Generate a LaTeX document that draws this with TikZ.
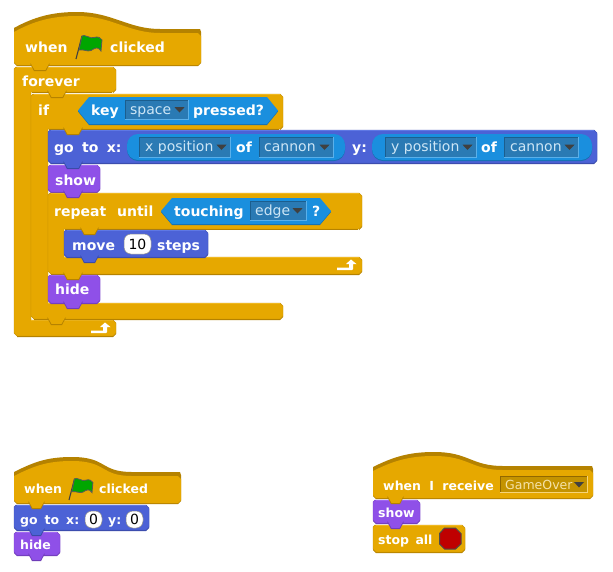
\documentclass[tikz,border=0pt]{standalone}
\usepackage{fontspec}
\setmainfont{DejaVu Sans}
\definecolor{ymain}{HTML}{E6A800}
\definecolor{ydark}{HTML}{B58200}
\definecolor{ylite}{HTML}{F0B820}
\definecolor{bmain}{HTML}{4C62D6}
\definecolor{bdark}{HTML}{3A4BA8}
\definecolor{blite}{HTML}{5F78E4}
\definecolor{pmain}{HTML}{8F50E8}
\definecolor{pdark}{HTML}{6F3DB8}
\definecolor{plite}{HTML}{A066F0}
\definecolor{smain}{HTML}{1A8FDE}
\definecolor{sdark}{HTML}{1570B0}
\definecolor{ddfill}{HTML}{2A7AB4}
\definecolor{ddtl}{HTML}{1B5E8E}
\definecolor{ddbr}{HTML}{5AB0EA}
\definecolor{ddtxt}{HTML}{CDE6F6}
\definecolor{gofill}{HTML}{C49300}
\definecolor{gotxt}{HTML}{F5E2A8}
\newcommand\ws{\kern3.5pt\ }
\newcommand\blk[5]{% prefix x1 y1 x2 y2
  \def\pth{(#2,#3+2)--(#2+2,#3)--(#4-3,#3)--(#4,#3+3)--(#4,#5-3)--(#4-3,#5)--(#2+3,#5)--(#2,#5-3)--cycle}
  \fill[#1dark] (#2,#3+3)--(#2+2,#3+1)--(#4-3,#3+1)--(#4,#3+4)--(#4,#5-2)--(#4-3,#5+1)--(#2+3,#5+1)--(#2,#5-2)--cycle;
  \filldraw[fill=#1main,draw=#1dark!60!#1main,line width=.4pt] \pth;
  \draw[#1lite,line width=.8pt] (#2+3,#3+.6)--(#4-3,#3+.6);}
\newcommand\cblk[9]{% prefix x1 y1 xT yB xA yB2 xB yBot
  \def\pth{(#2,#3+2)--(#2+2,#3)--(#4-3,#3)--(#4,#3+3)--(#4,#5-3)--(#4-3,#5)--(#6,#5)--(#6,#7)--(#8-3,#7)--(#8,#7+3)--(#8,#9-3)--(#8-3,#9)--(#2+3,#9)--(#2,#9-3)--cycle}
  \fill[#1dark] (#4-3,#5+1)--(#4,#5-2)--(#4,#5-3)--(#4-3,#5)--cycle;
  \fill[#1dark] (#8-3,#9+1)--(#8,#9-2)--(#8,#9-3)--(#8-3,#9)--(#2+3,#9)--(#2+3,#9+1)--cycle;
  \filldraw[fill=#1main,draw=#1dark!60!#1main,line width=.4pt] \pth;
  \draw[#1dark,line width=1pt] (#4-4,#5)--(#6+1,#5);
  \draw[#1dark,line width=1pt] (#8-3,#9)--(#2+3,#9);
  \draw[#1lite,line width=.8pt] (#2+3,#3+.6)--(#4-3,#3+.6);
  \draw[#1lite,line width=.8pt] (#6,#7+.6)--(#8-3,#7+.6);}
\newcommand\bump[4]{% prefix x y width
  \fill[#1dark] (#2,#3-1.5)--(#2+#4,#3-1.5)--(#2+#4-4,#3+6)--(#2+4,#3+6)--cycle;
  \fill[#1main] (#2+.6,#3-2)--(#2+#4-.6,#3-2)--(#2+#4-4.5,#3+4.8)--(#2+4.5,#3+4.8)--cycle;}
\newcommand\hatblk[8]{% x1 yl xp yp xe ye x2 ybot
  \fill[ydark] (#1,#2) .. controls (#1+20,#4+5) and (#3-25,#4) .. (#3,#4)
     .. controls (#3+35,#4) and (#5-32,#6) .. (#5,#6) -- (#7-1,#6) -- (#7,#6+3) -- (#7,#8-2) -- (#7-3,#8+1) -- (#1+3,#8+1) -- (#1,#8-2) -- cycle;
  \fill[ymain] (#1,#2+4) .. controls (#1+20,#4+9) and (#3-25,#4+4) .. (#3,#4+4)
     .. controls (#3+35,#4+4) and (#5-32,#6+4) .. (#5,#6+4) -- (#7-3,#6+4) -- (#7,#6+7) -- (#7,#8-3) -- (#7-3,#8) -- (#1+3,#8) -- (#1,#8-3) -- cycle;}
\newcommand\lab[5][14]{\node[anchor=base west,inner sep=0pt,text=white,font=\fontsize{#1}{#1}\selectfont\bfseries] (#2) at (#3,#4) {#5};}
\newcommand\ddlab[5][ddtxt]{\node[anchor=base west,inner sep=0pt,text=#1,font=\fontsize{14}{14}\selectfont] (#2) at (#3,#4) {#5};}
\newcommand\dropd[4]{% x1 y1 x2 y2
  \fill[ddfill] (#1,#2) rectangle (#3,#4);
  \draw[ddtl,line width=.9pt] (#1+.4,#4)--(#1+.4,#2+.4)--(#3,#2+.4);
  \draw[ddbr,line width=.9pt] (#1+.4,#4-.4)--(#3-.4,#4-.4)--(#3-.4,#2+.4);
  \fill[black!75] (#3-14.5,{(#2+#4)/2-2.8})--(#3-4.5,{(#2+#4)/2-2.8})--(#3-9.5,{(#2+#4)/2+2.5})--cycle;}
\newcommand\boolb[4]{% x1 y1 x2 y2
  \fill[sdark] (#1,{(#2+#4)/2+1})--(#1+11,#2+1)--(#3-11,#2+1)--(#3,{(#2+#4)/2+1})--(#3-11,#4+1)--(#1+11,#4+1)--cycle;
  \fill[smain] (#1,{(#2+#4)/2})--(#1+11,#2)--(#3-11,#2)--(#3,{(#2+#4)/2})--(#3-11,#4)--(#1+11,#4)--cycle;}
\newcommand\repo[4]{% x1 y1 x2 y2
  \fill[sdark,rounded corners=11pt] (#1,#2+1) rectangle (#3,#4+1);
  \fill[smain,rounded corners=11pt] (#1,#2) rectangle (#3,#4);}
\newcommand\ovalb[6]{% name x1 y1 x2 y2 text
  \filldraw[fill=white,draw=black!45,line width=.5pt,rounded corners=7pt] (#2,#3) rectangle (#4,#5);
  \node[inner sep=0pt,font=\fontsize{14}{14}\selectfont,text=black] (#1) at ({(#2+#4)/2},{(#3+#5)/2}) {#6};}
\newcommand\retarrow[2]{% x y of lower-left
  \fill[white] (#1,#2)--(#1,#2-2.5)--(#1+12,#2-2.5)--(#1+12,#2-6)--(#1+9,#2-6)--(#1+14,#2-10.5)--(#1+19.5,#2-6)--(#1+16,#2-6)--(#1+16,#2-1)--(#1+15,#2)--cycle;}
\newcommand\flagb[3]{% x y scale (anchored at pole bottom)
  \begin{scope}[shift={(#1,#2)},scale=#3]
  \draw[black!75,line width=1.1pt] (0,0)--(6,-23);
  \filldraw[fill=green!65!black,draw=black!65,line width=.8pt] (6,-23)--(8,-23.5) .. controls (12,-24) and (13,-20) .. (18,-21.5) .. controls (22,-23) and (25,-21) .. (26,-19)--(25,-8) .. controls (22,-13) and (19,-11) .. (15,-8.5) .. controls (11,-7) and (8,-10) .. (3,-9)--cycle;
  \end{scope}}
\begin{document}
\begin{tikzpicture}[x=1pt,y=-1pt]
\useasboundingbox (0,0) rectangle (613,571);
\fill[white] (0,0) rectangle (613,571);
% ---- big stack
\hatblk{14}{28}{77}{12}{160}{29}{201}{65}
\cblk{y}{14}{67}{116}{92}{31}{320}{116}{336}
\cblk{y}{31}{94}{283}{129}{48}{303}{283}{319}
\blk{b}{48}{130}{597}{163}
\blk{p}{48}{165}{100}{192}
\cblk{y}{48}{193}{362}{229}{64}{257}{362}{274}
\blk{b}{64}{230}{208}{257}
\blk{p}{48}{275}{100}{303}
% bumps
\bump{y}{30}{65}{20}
\bump{y}{47}{92}{20}
\bump{y}{63}{129}{20}
\bump{b}{63}{163}{20}
\bump{p}{63}{192}{20}
\bump{y}{80}{229}{19}
\bump{b}{80}{257}{19}
\bump{y}{63}{274}{20}
\bump{p}{63}{303}{20}
\bump{y}{47}{319}{19}
% labels
\lab{w1}{25}{52}{when}
\flagb{76}{59}{1}
\lab{c1}{110}{52}{clicked}
\lab{fe}{22}{86}{forever}
\lab{if}{38}{115}{if}
\boolb{78}{97}{278}{124}
\lab{key}{91}{115}{key}
\dropd{125}{100}{189}{120}
\ddlab{sp}{130}{114}{space}
\lab{pr}{193}{115}{pressed?}
\lab{gt}{54}{152}{go\ws to\ws x:}
\repo{127}{134}{345}{160}
\dropd{139}{137}{231}{158}
\ddlab{xp}{145}{151}{x position}
\lab{of1}{236}{152}{of}
\dropd{259}{137}{334}{158}
\ddlab{ca1}{264}{151}{cannon}
\lab{yl}{352}{152}{y:}
\repo{372}{134}{592}{160}
\dropd{385}{137}{477}{158}
\ddlab{yp}{391}{151}{y position}
\lab{of2}{481}{152}{of}
\dropd{504}{137}{579}{158}
\ddlab{ca2}{510}{151}{cannon}
\lab{sh1}{55}{185}{show}
\lab{ru}{54}{216}{repeat\kern6pt\ until}
\boolb{161}{198}{331}{224}
\lab{tc}{174}{216}{touching}
\dropd{250}{201}{307}{221}
\ddlab{ed}{255}{215}{edge}
\lab{qm}{312}{216}{?}
\lab{mv}{72}{250}{move}
\ovalb{ten}{124}{234}{151}{254}{10}
\lab{st}{157}{250}{steps}
\retarrow{337}{270}
\lab{hi1}{55}{294}{hide}
\retarrow{91}{333}
% ---- lower-left stack
\hatblk{14}{472}{72}{457}{132}{472}{181}{503}
\blk{b}{14}{505}{149}{530}
\blk{p}{14}{532}{60}{555}
\bump{y}{28}{503}{17}
\bump{b}{28}{530}{17}
\bump{p}{28}{555}{17}
\lab[12.5]{w2}{24}{493}{when}
\flagb{69}{500}{.92}
\lab[12.5]{c2}{99}{493}{clicked}
\lab[12.5]{gt2}{20}{524}{go\kern2.6pt\ to\kern2.6pt\ x:}
\ovalb{z1}{85}{511}{102}{528}{0}
\lab[12.5]{yl2}{108}{524}{y:}
\ovalb{z2}{126}{511}{143}{528}{0}
\lab[12.5]{hi2}{20}{549}{hide}
% ---- lower-right stack
\hatblk{373}{467}{434}{452}{503}{466}{593}{498}
\blk{p}{373}{500}{420}{523}
\blk{y}{373}{525}{465}{552}
\bump{y}{387}{498}{17}
\bump{p}{387}{523}{17}
\lab[12.5]{wr}{383}{490}{when\kern4pt\ I\kern4pt\ receive}
\fill[gofill] (500,476) rectangle (588,493);
\draw[ydark!80!black,line width=.9pt] (500.4,493)--(500.4,476.4)--(588,476.4);
\draw[ylite!60!white,line width=.9pt] (500.4,492.6)--(587.6,492.6)--(587.6,476.4);
\node[anchor=base west,inner sep=0pt,text=gotxt,font=\fontsize{12.5}{12.5}\selectfont] (go) at (505,489.5) {GameOver};
\fill[black!75] (574,482)--(584,482)--(579,487.5)--cycle;
\lab[12.5]{sh2}{378}{517}{show}
\lab[12.5]{sa}{378}{544}{stop\kern2pt\ all}
\filldraw[fill=red!75!black,draw=black!70,line width=1pt] (444.5,528)--(455.5,528)--(461,533.5)--(461,544)--(455.5,549)--(444.5,549)--(439.5,544)--(439.5,533.5)--cycle;
\end{tikzpicture}
\end{document}
